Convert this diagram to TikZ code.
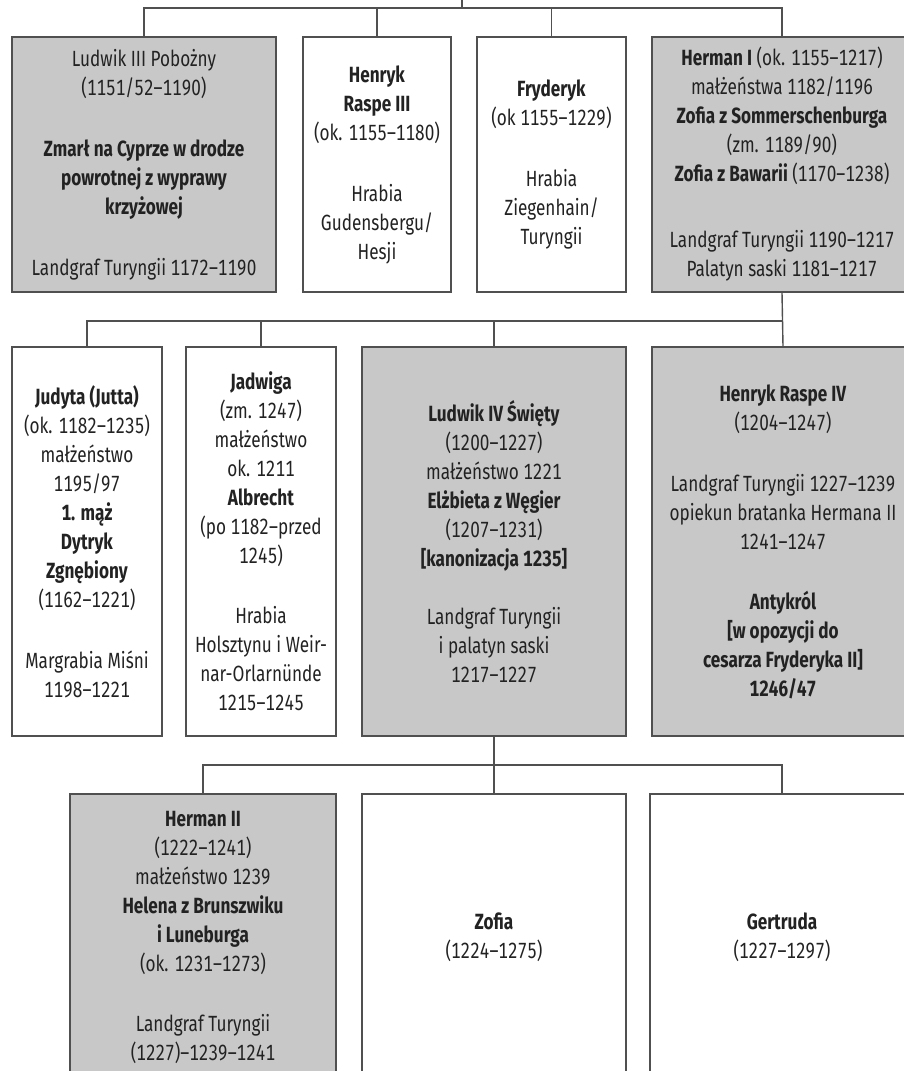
\documentclass[tikz,border=0pt]{standalone}
\usepackage{fontspec}
\setmainfont[FakeStretch=0.78,Numbers=Monospaced]{Fira Sans}
\definecolor{boxgray}{HTML}{C8C8C8}
\definecolor{linegray}{HTML}{505050}
\definecolor{txt}{HTML}{222222}
\tikzset{
  person/.style={draw=linegray, line width=1.6pt, inner sep=0pt, align=center,
    text=txt, font=\fontsize{22}{29}\selectfont, anchor=center},
  grayfill/.style={person, fill=boxgray},
  whitefill/.style={person, fill=white},
  link/.style={draw=linegray, line width=1.4pt}
}
\begin{document}
\begin{tikzpicture}[x=1pt,y=-1pt]
\useasboundingbox (0,0) rectangle (904,1071);
\fill[white] (0,0) rectangle (904,1071);
\clip (0,0) rectangle (904,1071);

% row 1
\node[grayfill, minimum width=264pt, minimum height=255pt] (A) at (144,164.5)
 {Ludwik III Pobożny\\(1151/52–1190)\\[32pt]\textbf{Zmarł na Cyprze w drodze}\\\textbf{powrotnej z wyprawy}\\\textbf{krzyżowej}\\[32pt]Landgraf Turyngii 1172–1190};
\node[whitefill, minimum width=148pt, minimum height=255pt] (B) at (377,164.5)
 {\textbf{Henryk}\\\textbf{Raspe III}\\(ok. 1155–1180)\\[32pt]Hrabia\\Gudensbergu/\\Hesji};
\node[whitefill, minimum width=149pt, minimum height=255pt] (C) at (551.5,164.5)
 {\textbf{Fryderyk}\\(ok 1155–1229)\\[32pt]Hrabia\\Ziegenhain/\\Turyngii};
\node[grayfill, minimum width=260pt, minimum height=255pt] (D) at (782,164.5)
 {\textbf{Herman I} (ok. 1155–1217)\\małżeństwa 1182/1196\\\textbf{Zofia z Sommerschenburga}\\(zm. 1189/90)\\\textbf{Zofia z Bawarii} (1170–1238)\\[37pt]Landgraf Turyngii 1190–1217\\Palatyn saski 1181–1217};

% row 2
\node[whitefill, minimum width=150pt, minimum height=389pt] (Ju) at (87,541.5)
 {\textbf{Judyta (Jutta)}\\(ok. 1182–1235)\\małżeństwo\\1195/97\\\textbf{1. mąż}\\\textbf{Dytryk}\\\textbf{Zgnębiony}\\(1162–1221)\\[32pt]Margrabia Miśni\\1198–1221};
\node[whitefill, minimum width=150pt, minimum height=389pt] (Ja) at (261,541.5)
 {\textbf{Jadwiga}\\(zm. 1247)\\małżeństwo\\ok. 1211\\\textbf{Albrecht}\\(po 1182–przed\\1245)\\[31pt]Hrabia\\Holsztynu i Weir-\\nar-Orlarnünde\\1215–1245};
\node[grayfill, minimum width=264pt, minimum height=389pt] (L4) at (494,541.5)
 {\textbf{Ludwik IV Święty}\\(1200–1227)\\małżeństwo 1221\\\textbf{Elżbieta z Węgier}\\(1207–1231)\\\textbf{[kanonizacja 1235]}\\[29pt]Landgraf Turyngii\\i palatyn saski\\1217–1227};
\node[grayfill, minimum width=262pt, minimum height=389pt] (H4) at (783,541.5)
 {\textbf{Henryk Raspe IV}\\(1204–1247)\\[32pt]Landgraf Turyngii 1227–1239\\opiekun bratanka Hermana II\\1241–1247\\[31pt]\textbf{Antykról}\\\textbf{[w opozycji do}\\\textbf{cesarza Fryderyka II]}\\\textbf{1246/47}};

% row 3
\node[grayfill, minimum width=266pt, minimum height=286pt] (H2) at (203,937)
 {\textbf{Herman II}\\(1222–1241)\\małżeństwo 1239\\\textbf{Helena z Brunszwiku}\\\textbf{i Luneburga}\\(ok. 1231–1273)\\[31pt]Landgraf Turyngii\\(1227)–1239–1241};
\node[whitefill, minimum width=264pt, minimum height=286pt] (Zo) at (494,937)
 {\textbf{Zofia}\\(1224–1275)};
\node[whitefill, minimum width=264pt, minimum height=286pt] (Ge) at (782,937)
 {\textbf{Gertruda}\\(1227–1297)};

% connectors
\coordinate (top) at (462,0);
\coordinate (bar1) at (462,8);
\coordinate (bar2) at (783,321);
\coordinate (bar3) at (494,765);
\draw[link] (top) -- (bar1);
\draw[link] (A.north) |- (bar1) -| (D.north);
\draw[link] (B.north) -- (B.north |- bar1);
\draw[link] (C.north) -- (C.north |- bar1);
\draw[link] (D.south) -- (H4.north);
\draw[link] (Ju.north) |- (bar2);
\draw[link] (Ja.north) -- (Ja.north |- bar2);
\draw[link] (L4.north) -- (L4.north |- bar2);
\draw[link] (L4.south) -- (Zo.north);
\draw[link] (H2.north) |- (bar3) -| (Ge.north);
\end{tikzpicture}
\end{document}
